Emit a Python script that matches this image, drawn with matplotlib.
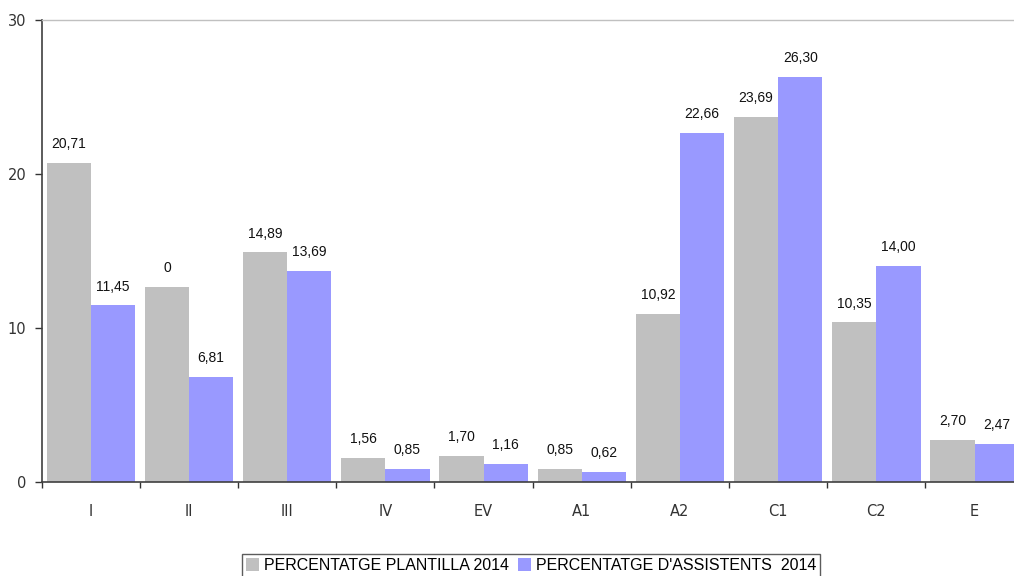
import matplotlib
matplotlib.use("Agg")
import matplotlib.pyplot as plt
import numpy as np
from matplotlib.patches import Patch

categories = ["I", "II", "III", "IV", "EV", "A1", "A2", "C1", "C2", "E"]
plantilla = [20.71, 12.67, 14.89, 1.56, 1.70, 0.85, 10.92, 23.69, 10.35, 2.70]
plantilla_labels = ["20,71", "0", "14,89", "1,56", "1,70", "0,85", "10,92", "23,69", "10,35", "2,70"]
assistents = [11.45, 6.81, 13.69, 0.85, 1.16, 0.62, 22.66, 26.30, 14.00, 2.47]
assistents_labels = ["11,45", "6,81", "13,69", "0,85", "1,16", "0,62", "22,66", "26,30", "14,00", "2,47"]
series_names = ["PERCENTATGE PLANTILLA 2014", "PERCENTATGE D'ASSISTENTS  2014"]
yticks = [0, 10, 20, 30]

gray = "#C0C0C0"
blue = "#9999FF"

fig = plt.figure(figsize=(10.14, 5.76), dpi=100)
ax = fig.add_axes([41.7/1014, (576-481.7)/576, 982/1014, (481.7-19.9)/576])

x = np.arange(len(categories))
w = 0.45
ax.bar(x - w/2, plantilla, width=w, color=gray, linewidth=0, zorder=2)
ax.bar(x + w/2, assistents, width=w, color=blue, linewidth=0, zorder=2)

lab_font = dict(family="Liberation Sans", size=10, color="#111111")
for xi, v, s in zip(x, plantilla, plantilla_labels):
    ax.annotate(s, (xi - w/2, v), xytext=(0, 8.5), textcoords="offset points",
                ha="center", va="bottom", **lab_font)
for xi, v, s in zip(x, assistents, assistents_labels):
    ax.annotate(s, (xi + w/2, v), xytext=(0, 8.5), textcoords="offset points",
                ha="center", va="bottom", **lab_font)

ax.set_xlim(-0.5, len(categories) - 0.5)
ax.set_ylim(0, 30)
ax.set_yticks(yticks)
ax.set_yticklabels([str(t) for t in yticks], family="DejaVu Sans", fontsize=10.5, color="#333333")

ax.set_xticks(x)
ax.set_xticklabels(categories, family="DejaVu Sans", fontsize=10.5, color="#333333")
ax.tick_params(axis="x", which="major", length=0, pad=16)
ax.set_xticks(np.arange(len(categories) + 1) - 0.5, minor=True)
ax.tick_params(axis="x", which="minor", length=4, width=1, color="#333333", direction="out")
ax.tick_params(axis="y", length=5, width=1, color="#333333", direction="out", pad=6)

for s in ["left", "bottom"]:
    ax.spines[s].set_color("#404040")
    ax.spines[s].set_linewidth(1.2)
ax.spines["top"].set_color("#C0C0C0")
ax.spines["top"].set_linewidth(1)
ax.spines["right"].set_visible(False)

handles = [Patch(facecolor=gray, edgecolor="none"), Patch(facecolor=blue, edgecolor="none")]
leg = fig.legend(handles, series_names, loc="upper center", bbox_to_anchor=(531/1014, (576-554)/576),
                 ncol=2, frameon=True, fancybox=False, handlelength=0.8, handleheight=0.8,
                 handletextpad=0.3, columnspacing=0.6, borderpad=0.25, borderaxespad=0,
                 prop=dict(family="Liberation Sans", size=11.5))
leg.get_frame().set_edgecolor("#333333")
leg.get_frame().set_linewidth(1)

fig.savefig("out.png", dpi=100)
